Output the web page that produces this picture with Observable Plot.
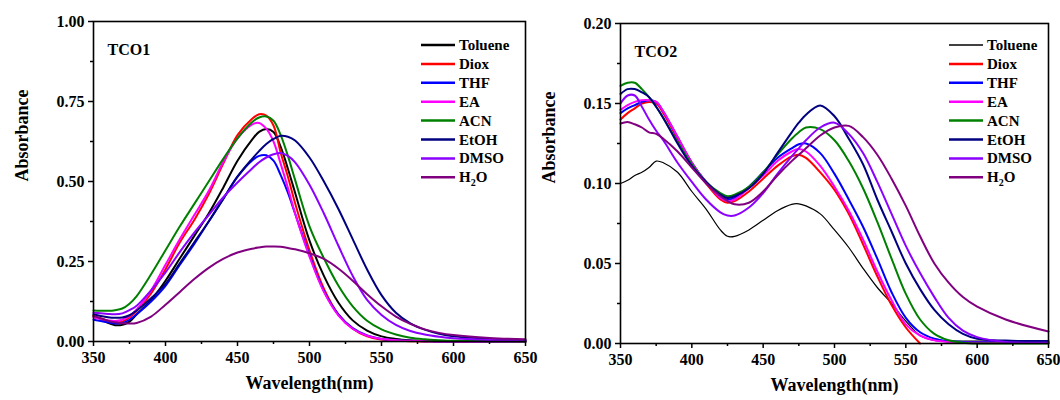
<!DOCTYPE html>
<html><head><meta charset="utf-8">
<script src="https://cdn.jsdelivr.net/npm/d3@7"></script>
<script src="https://cdn.jsdelivr.net/npm/@observablehq/plot@0.6"></script>
<style>
body{margin:0;background:#fff;}
#wrap{display:flex;width:1060px;height:400px;}
#wrap svg{overflow:visible;display:block;}
</style></head><body><div id="wrap"></div>
<script>
// Series (solvents) and colours
const SERIES = ["Toluene","Diox","THF","EA","ACN","EtOH","DMSO","H2O"];
const COLORS = ["#000000","#ff0000","#0000ff","#ff00ff","#008000","#000080","#8b00ff","#800080"];

// ---- TCO1 (left panel) ----
const L_WL = [350,355,360,365,370,375,380,390,400,410,420,430,440,450,460,465,470,475,480,485,490,500,510,520,530,540,550,560,570,580,590,600,625,650];
const L_Toluene = [0.080,0.070,0.058,0.051,0.052,0.062,0.085,0.130,0.190,0.260,0.330,0.400,0.480,0.565,0.630,0.655,0.664,0.655,0.608,0.540,0.465,0.315,0.205,0.122,0.066,0.034,0.016,0.008,0.004,0.002,0.001,0,0,0];
const L_Diox    = [0.080,0.073,0.065,0.060,0.062,0.075,0.095,0.150,0.226,0.310,0.380,0.460,0.555,0.645,0.695,0.710,0.706,0.675,0.590,0.515,0.432,0.285,0.165,0.085,0.040,0.016,0.006,0.002,0.001,0,0,0,0,0];
const L_THF     = [0.068,0.064,0.060,0.056,0.058,0.068,0.085,0.125,0.174,0.240,0.305,0.375,0.445,0.515,0.565,0.580,0.582,0.565,0.520,0.465,0.400,0.270,0.158,0.085,0.042,0.019,0.008,0.004,0.002,0.001,0,0,0,0];
const L_EA      = [0.075,0.070,0.066,0.064,0.068,0.080,0.100,0.160,0.240,0.320,0.395,0.470,0.560,0.635,0.678,0.683,0.665,0.625,0.555,0.480,0.400,0.265,0.155,0.082,0.040,0.018,0.008,0.004,0.002,0.001,0,0,0,0];
const L_ACN     = [0.097,0.096,0.096,0.098,0.103,0.118,0.142,0.210,0.285,0.360,0.430,0.500,0.570,0.635,0.685,0.700,0.703,0.690,0.645,0.580,0.505,0.360,0.260,0.175,0.110,0.065,0.038,0.022,0.012,0.007,0.004,0.002,0.001,0];
const L_EtOH    = [0.085,0.080,0.076,0.074,0.075,0.082,0.097,0.135,0.180,0.245,0.310,0.375,0.445,0.515,0.570,0.595,0.617,0.633,0.643,0.640,0.628,0.575,0.500,0.415,0.320,0.225,0.145,0.090,0.057,0.037,0.024,0.016,0.008,0.004];
const L_DMSO    = [0.090,0.088,0.086,0.085,0.088,0.098,0.112,0.160,0.216,0.280,0.340,0.395,0.450,0.497,0.540,0.560,0.575,0.585,0.589,0.580,0.560,0.490,0.400,0.300,0.205,0.130,0.083,0.052,0.033,0.022,0.015,0.010,0.005,0.003];
const L_H2O     = [0.080,0.072,0.065,0.060,0.057,0.056,0.058,0.078,0.115,0.155,0.195,0.230,0.258,0.278,0.290,0.294,0.297,0.297,0.296,0.292,0.288,0.276,0.258,0.228,0.190,0.148,0.110,0.078,0.055,0.038,0.027,0.020,0.011,0.007];

// ---- TCO2 (right panel) ----
const R_WL = [350,355,360,365,370,375,380,390,400,410,420,425,430,440,450,460,470,475,480,490,500,510,520,530,540,550,560,570,580,590,600,620,650];
const R_Toluene = [0.100,0.102,0.105,0.107,0.110,0.114,0.113,0.107,0.095,0.084,0.071,0.067,0.067,0.071,0.077,0.083,0.087,0.0873,0.086,0.081,0.071,0.060,0.047,0.035,0.025,0.014,0.005,0.002,0.0015,0.0015,0.0015,0.0015,0.0015];
const R_Diox    = [0.140,0.144,0.147,0.150,0.151,0.150,0.144,0.128,0.113,0.100,0.090,0.088,0.089,0.095,0.103,0.111,0.117,0.118,0.116,0.107,0.096,0.081,0.062,0.042,0.024,0.010,0.000,null,null,null,null,null,null];
const R_THF     = [0.144,0.147,0.149,0.151,0.152,0.151,0.145,0.129,0.113,0.101,0.092,0.090,0.091,0.098,0.107,0.116,0.122,0.1245,0.125,0.119,0.106,0.090,0.073,0.053,0.032,0.016,0.007,0.003,0.0015,0.001,0.0008,0.0008,0.0008];
const R_EA      = [0.146,0.149,0.151,0.152,0.152,0.151,0.145,0.129,0.113,0.101,0.091,0.089,0.090,0.097,0.105,0.114,0.120,0.1215,0.120,0.111,0.098,0.083,0.065,0.045,0.027,0.012,0.005,0.002,0.001,0.0005,0.0005,0.0005,0.0005];
const R_ACN     = [0.161,0.163,0.163,0.159,0.154,0.148,0.141,0.126,0.112,0.101,0.094,0.092,0.093,0.098,0.107,0.118,0.128,0.132,0.135,0.134,0.127,0.114,0.097,0.076,0.053,0.031,0.015,0.006,0.002,0.0005,0,0,0];
const R_EtOH    = [0.156,0.159,0.159,0.157,0.154,0.148,0.141,0.125,0.111,0.101,0.093,0.091,0.092,0.097,0.106,0.119,0.132,0.138,0.143,0.1488,0.142,0.128,0.112,0.090,0.070,0.050,0.034,0.021,0.012,0.006,0.003,0.0018,0.0015];
const R_DMSO    = [0.150,0.155,0.155,0.148,0.140,0.133,0.127,0.113,0.101,0.090,0.082,0.080,0.080,0.085,0.094,0.106,0.117,0.122,0.127,0.135,0.138,0.131,0.119,0.101,0.081,0.061,0.044,0.029,0.016,0.008,0.004,0.001,0.0005];
const R_H2O     = [0.1375,0.1385,0.137,0.135,0.132,0.131,0.128,0.120,0.110,0.100,0.092,0.089,0.087,0.088,0.095,0.105,0.114,0.118,0.122,0.130,0.135,0.136,0.129,0.118,0.103,0.086,0.067,0.050,0.038,0.029,0.023,0.015,0.0075];

// ticks
const X_MAJOR = [350,400,450,500,550,600,650];
const X_MINOR = [375,425,475,525,575,625];
const L_Y_MAJOR = [0,0.25,0.5,0.75,1.0];
const L_Y_MINOR = [0.125,0.375,0.625,0.875];
const R_Y_MAJOR = [0,0.05,0.10,0.15,0.20];
const R_Y_MINOR = [0.025,0.075,0.125,0.175];

const FONT = "'Liberation Serif','Times New Roman',serif";

function panel({wl, series, yDomain, yMajor, yMinor, title, widths, margins, legendX}) {
  const marks = [];
  SERIES.forEach((name, i) => {
    const rows = wl.map((w, j) => ({wl: w, a: series[i][j]}));
    marks.push(Plot.line(rows, {x: "wl", y: "a", stroke: COLORS[i], strokeWidth: widths[i], curve: "catmull-rom"}));
  });
  marks.push(
    Plot.frame({stroke: "black", strokeWidth: 1.6}),
    Plot.axisX(X_MAJOR, {tickSize: 5, tickPadding: 5, strokeWidth: 1.5, fontSize: 16, fontWeight: "bold", tickFormat: d => String(d), label: null}),
    Plot.axisX(X_MINOR, {tickSize: 3, strokeWidth: 1.5, tickFormat: () => "", label: null}),
    Plot.axisY(yMajor, {tickSize: 5, tickPadding: 4, strokeWidth: 1.5, fontSize: 16, fontWeight: "bold", tickFormat: d3.format(".2f"), label: null}),
    Plot.axisY(yMinor, {tickSize: 3, strokeWidth: 1.5, tickFormat: () => "", label: null}),
    Plot.text(["Absorbance"], {frameAnchor: "left", dx: -71, rotate: -90, fontSize: 18, fontWeight: "bold"}),
    Plot.text(["Wavelength(nm)"], {frameAnchor: "bottom", dy: 47, fontSize: 18, fontWeight: "bold"}),
    Plot.text([title], {frameAnchor: "top-left", dx: 14, dy: 22, textAnchor: "start", fontSize: 16, fontWeight: "bold"})
  );
  const svg = Plot.plot({
    width: 530, height: 400, ...margins,
    style: {fontFamily: FONT, fontSize: "16px", fontWeight: "bold", color: "black", background: "transparent", overflow: "visible"},
    x: {domain: [350, 650]},
    y: {domain: yDomain},
    marks
  });
  // legend
  const g = d3.select(svg).append("g").attr("font-family", FONT).attr("font-weight", "bold")
    .attr("font-size", 15).attr("text-anchor", "start");
  SERIES.forEach((name, i) => {
    const cy = 45 + 18.9 * i;
    g.append("line").attr("x1", legendX).attr("x2", legendX + 34).attr("y1", cy).attr("y2", cy)
      .attr("stroke", COLORS[i]).attr("stroke-width", widths[i] + 0.5);
    const t = g.append("text").attr("x", legendX + 38).attr("y", cy + 5).attr("fill", "black").attr("text-anchor", "start");
    if (name === "H2O") {
      t.append("tspan").text("H");
      t.append("tspan").attr("dy", 4).attr("font-size", 10).text("2");
      t.append("tspan").attr("dy", -4).text("O");
    } else t.text(name);
  });
  return svg;
}

const wrap = document.getElementById("wrap");
wrap.appendChild(panel({
  wl: L_WL,
  series: [L_Toluene, L_Diox, L_THF, L_EA, L_ACN, L_EtOH, L_DMSO, L_H2O],
  yDomain: [0, 1], yMajor: L_Y_MAJOR, yMinor: L_Y_MINOR, title: "TCO1",
  widths: [2, 2, 2, 2, 2, 2, 2, 2],
  margins: {marginLeft: 93, marginRight: 5, marginTop: 21, marginBottom: 59},
  legendX: 421
}));
wrap.appendChild(panel({
  wl: R_WL,
  series: [R_Toluene, R_Diox, R_THF, R_EA, R_ACN, R_EtOH, R_DMSO, R_H2O],
  yDomain: [0, 0.2], yMajor: R_Y_MAJOR, yMinor: R_Y_MINOR, title: "TCO2",
  widths: [1.2, 2, 2, 2, 2, 2, 2, 2],
  margins: {marginLeft: 90, marginRight: 12, marginTop: 23, marginBottom: 57},
  legendX: 419
}));
</script></body></html>
